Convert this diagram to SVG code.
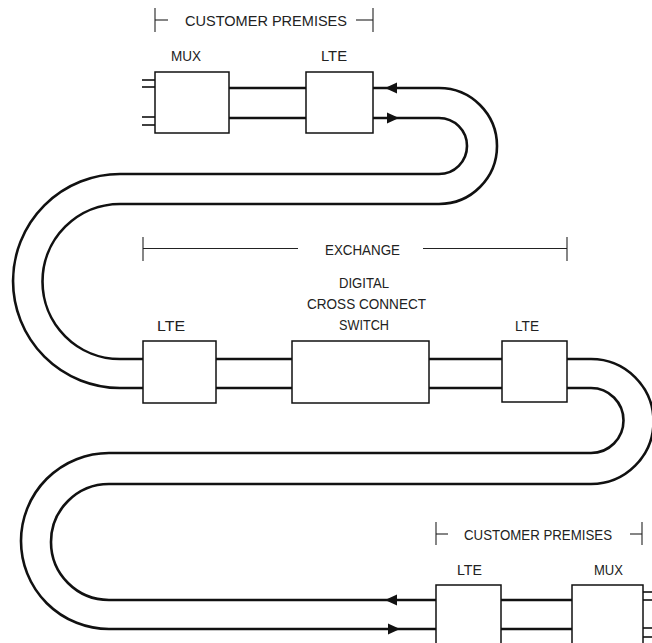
<svg xmlns="http://www.w3.org/2000/svg" width="652" height="643" viewBox="0 0 652 643">
<style>
.bg{fill:#fff}
.box{fill:#fff;stroke:#111;stroke-width:1.5}
.cable{fill:none;stroke:#111;stroke-width:2.6}
.stub{stroke:#111;stroke-width:1.6}
.brk{fill:none;stroke:#222;stroke-width:1.1}
.lbl{font-family:"Liberation Sans",Arial,sans-serif;font-size:15.5px;fill:#222}
.arr{fill:#111}
</style>
<rect class="bg" x="0" y="0" width="652" height="643"/>
<g id="connectors">
  <line class="cable" x1="229" y1="88" x2="306" y2="88"/>
  <line class="cable" x1="229" y1="118" x2="306" y2="118"/>
  <path class="cable" d="M373,88 H439 A58,58 0 0 1 439,204 H120 A77.5,77.5 0 0 0 120,359 H143"/>
  <path class="cable" d="M373,118 H439 A28,28 0 0 1 439,174 H120 A107,107 0 0 0 120,388 H143"/>
  <line class="cable" x1="216" y1="359" x2="292" y2="359"/>
  <line class="cable" x1="216" y1="388" x2="292" y2="388"/>
  <line class="cable" x1="429" y1="359" x2="502" y2="359"/>
  <line class="cable" x1="429" y1="388" x2="502" y2="388"/>
  <path class="cable" d="M567,359 H591 A62.5,62.5 0 0 1 591,484 H109 A58,58 0 0 0 109,600 H436"/>
  <path class="cable" d="M567,388 H591 A32.5,32.5 0 0 1 591,453 H109 A88,88 0 0 0 109,629 H436"/>
  <line class="cable" x1="501" y1="600" x2="572" y2="600"/>
  <line class="cable" x1="501" y1="629" x2="572" y2="629"/>
  <polygon class="arr" points="385,88 397,82.5 397,93.5"/>
  <polygon class="arr" points="399,118 387,112.5 387,123.5"/>
  <polygon class="arr" points="385,600 397,594.5 397,605.5"/>
  <polygon class="arr" points="400,629 388,623.5 388,634.5"/>
  <line class="stub" x1="142" y1="80" x2="155" y2="80"/>
  <line class="stub" x1="142" y1="87" x2="155" y2="87"/>
  <line class="stub" x1="142" y1="117" x2="155" y2="117"/>
  <line class="stub" x1="142" y1="125" x2="155" y2="125"/>
  <line class="stub" x1="643" y1="592" x2="652" y2="592"/>
  <line class="stub" x1="643" y1="600" x2="652" y2="600"/>
  <line class="stub" x1="643" y1="628" x2="652" y2="628"/>
  <line class="stub" x1="643" y1="637" x2="652" y2="637"/>
</g>
<g id="bracket-top">
  <line class="brk" x1="155" y1="8" x2="155" y2="32"/>
  <line class="brk" x1="155" y1="20" x2="168" y2="20"/>
  <line class="brk" x1="356" y1="20" x2="373" y2="20"/>
  <line class="brk" x1="373" y1="8" x2="373" y2="32"/>
  <text class="lbl" x="185" y="25.5" textLength="162" lengthAdjust="spacingAndGlyphs">CUSTOMER PREMISES</text>
</g>
<g id="bracket-exchange">
  <line class="brk" x1="143" y1="237" x2="143" y2="261"/>
  <line class="brk" x1="143" y1="248.5" x2="298" y2="248.5"/>
  <line class="brk" x1="423" y1="248.5" x2="567" y2="248.5"/>
  <line class="brk" x1="567" y1="237" x2="567" y2="261"/>
  <text class="lbl" x="325" y="254.5" textLength="75" lengthAdjust="spacingAndGlyphs">EXCHANGE</text>
</g>
<g id="bracket-bottom">
  <line class="brk" x1="436" y1="522" x2="436" y2="545"/>
  <line class="brk" x1="436" y1="534" x2="448" y2="534"/>
  <line class="brk" x1="630" y1="534" x2="642" y2="534"/>
  <line class="brk" x1="642" y1="522" x2="642" y2="545"/>
  <text class="lbl" x="464" y="539.5" textLength="148" lengthAdjust="spacingAndGlyphs">CUSTOMER PREMISES</text>
</g>
<g id="mux-top">
  <rect class="box" x="155" y="72" width="74" height="61"/>
  <text class="lbl" x="171" y="60.5" textLength="30" lengthAdjust="spacingAndGlyphs">MUX</text>
</g>
<g id="lte-top">
  <rect class="box" x="306" y="72" width="67" height="61"/>
  <text class="lbl" x="321" y="60.5" textLength="26" lengthAdjust="spacingAndGlyphs">LTE</text>
</g>
<g id="lte-left">
  <rect class="box" x="143" y="341" width="73" height="62"/>
  <text class="lbl" x="157" y="330.5" textLength="28" lengthAdjust="spacingAndGlyphs">LTE</text>
</g>
<g id="switch">
  <rect class="box" x="292" y="341" width="137" height="62"/>
  <text class="lbl" x="339" y="287.5" textLength="50" lengthAdjust="spacingAndGlyphs">DIGITAL</text>
  <text class="lbl" x="307" y="308.5" textLength="119" lengthAdjust="spacingAndGlyphs">CROSS CONNECT</text>
  <text class="lbl" x="339" y="329.5" textLength="50" lengthAdjust="spacingAndGlyphs">SWITCH</text>
</g>
<g id="lte-right">
  <rect class="box" x="502" y="341" width="65" height="61"/>
  <text class="lbl" x="515" y="330.5" textLength="24" lengthAdjust="spacingAndGlyphs">LTE</text>
</g>
<g id="lte-bottom">
  <rect class="box" x="436" y="585" width="65" height="70"/>
  <text class="lbl" x="457" y="574.5" textLength="25" lengthAdjust="spacingAndGlyphs">LTE</text>
</g>
<g id="mux-bottom">
  <rect class="box" x="572" y="585" width="71" height="70"/>
  <text class="lbl" x="594" y="574.5" textLength="29" lengthAdjust="spacingAndGlyphs">MUX</text>
</g>
</svg>
